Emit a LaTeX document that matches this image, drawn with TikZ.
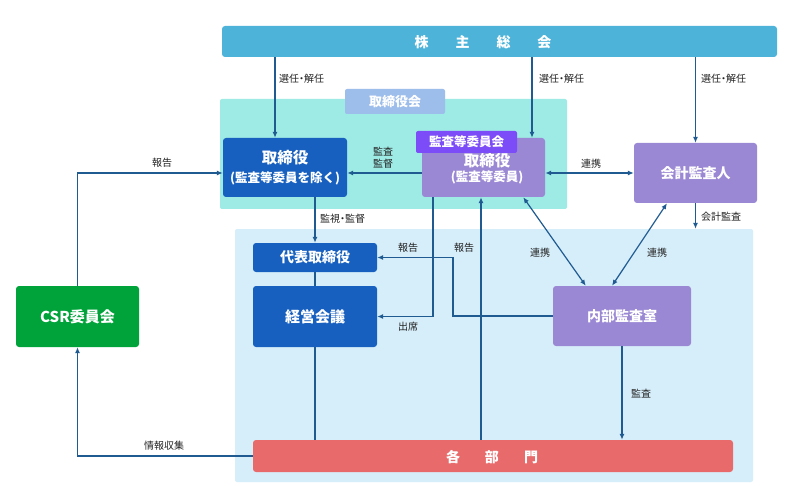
\documentclass[tikz,border=0pt]{standalone}
\usepackage{fontspec}
\setmainfont{Noto Sans CJK JP}
\usetikzlibrary{arrows.meta}
\definecolor{shc}{HTML}{4DB3D9}
\definecolor{cyanreg}{HTML}{9EEAE5}
\definecolor{tabblue}{HTML}{9DBDEB}
\definecolor{boxblue}{HTML}{1760BF}
\definecolor{purp}{HTML}{9B88D4}
\definecolor{violet}{HTML}{7B4CF7}
\definecolor{grn}{HTML}{00A23A}
\definecolor{redbar}{HTML}{E86A6A}
\definecolor{lightreg}{HTML}{D6EEFA}
\definecolor{lc}{HTML}{1F5A91}
\definecolor{lbltxt}{HTML}{222222}
\newcommand{\ndot}{\kern-2.5pt・\kern-2.5pt}
\tikzset{
  box/.style={rounded corners=3pt, text=white, inner sep=0pt, align=center, font=\bfseries\fontsize{14}{17}\selectfont},
  region/.style={rounded corners=2pt, inner sep=0pt},
  lbl/.style={font=\fontsize{10}{12}\selectfont, text=lbltxt, inner sep=0pt},
  conn/.style={draw=lc, line width=1.2pt},
  arr/.style={conn, -{Latex[length=6pt,width=5pt]}},
  darr/.style={conn, {Latex[length=6pt,width=5pt]}-{Latex[length=6pt,width=5pt]}},
}
\begin{document}
\begin{tikzpicture}[x=1pt,y=-1pt]
\useasboundingbox (0,0) rectangle (791,486);
\fill[white] (0,0) rectangle (791,486);
% regions
\node[region, fill=lightreg, minimum width=518pt, minimum height=253pt] (L) at (494,355.5) {};
\node[region, fill=cyanreg, minimum width=347pt, minimum height=110pt] (Q) at (393.5,154) {};
\node[box, fill=tabblue, minimum width=100pt, minimum height=25pt, rounded corners=2pt, font=\bfseries\fontsize{13}{15}\selectfont] (QT) at (395,101.5) {取締役会};
% main nodes
\node[box, fill=shc, minimum width=555pt, minimum height=31pt] (S) at (499.5,41.5) {};
\node[font=\bfseries\fontsize{14}{17}\selectfont, text=white, inner sep=0pt] (ST) at (483,42) {株\hspace{27pt}主\hspace{27pt}総\hspace{27pt}会};
\node[box, fill=boxblue, minimum width=124pt, minimum height=59pt] (A) at (285,167.5) {\fontsize{15.5}{19}\selectfont 取締役\\[1.5pt]\fontsize{12.5}{15}\selectfont (監査等委員を除く)};
\node[box, fill=purp, minimum width=123pt, minimum height=59pt] (B) at (483.5,167.5) {};
\node[text=white, inner sep=0pt, align=center, font=\bfseries] (BT) at (487,169) {\fontsize{15.5}{19}\selectfont 取締役\\[1.5pt]\fontsize{12.5}{15}\selectfont (監査等委員)};
\node[box, fill=violet, minimum width=101pt, minimum height=22pt, rounded corners=2pt, font=\bfseries\fontsize{12.5}{15}\selectfont] (BV) at (466.5,142) {監査等委員会};
\node[box, fill=purp, minimum width=123pt, minimum height=60pt] (K) at (695.5,173) {会計監査人};
\node[box, fill=boxblue, minimum width=124pt, minimum height=29pt] (R) at (315,257.5) {代表取締役};
\node[box, fill=boxblue, minimum width=124pt, minimum height=61pt, font=\bfseries\fontsize{15}{18}\selectfont] (M) at (315,316.5) {経営会議};
\node[box, fill=purp, minimum width=138pt, minimum height=60pt] (N) at (622,316) {内部監査室};
\node[box, fill=grn, minimum width=123pt, minimum height=61pt, font=\bfseries\fontsize{15}{18}\selectfont] (C) at (77.5,316.5) {CSR委員会};
\node[box, fill=redbar, minimum width=480pt, minimum height=32pt] (D) at (493,456) {};
\node[font=\bfseries\fontsize{14}{17}\selectfont, text=white, inner sep=0pt] (DT) at (492,457) {各\hspace{25pt}部\hspace{25pt}門};
% helper coordinates
\coordinate (bx) at (481,0);
\coordinate (nr) at (453,257.5);
% connectors
\draw[arr] ([xshift=-10pt]A.north |- S.south) -- ([xshift=-10pt]A.north);
\draw[arr] ([xshift=48.5pt]B.north |- S.south) -- ([xshift=48.5pt]B.north);
\draw[arr] (K.north |- S.south) -- (K.north);
\draw[arr] ([yshift=-5.5pt]B.west) -- ([yshift=-5.5pt]B.west -| A.east);
\draw[darr] (B.east |- K.west) -- (K.west);
\draw[arr] (A.south -| R.north) -- (R.north);
\draw[conn] (R.south) -- (M.north);
\draw[conn] (M.south) -- (M.south |- D.north);
\draw[arr] ([xshift=-50.5pt]B.south) |- (M.east);
\draw[arr] (N.west) -| (nr) -- (R.east);
\draw[arr] (D.north -| bx) -- (bx |- B.south);
\draw[darr] ([xshift=-22pt]B.south east) -- ([xshift=33pt]N.north west);
\draw[darr] ([xshift=-28.5pt]K.south) -- ([xshift=-10pt]N.north);
\draw[arr] (K.south) -- (K.south |- L.north);
\draw[arr] (N.south) -- (N.south |- D.north);
\draw[arr] (C.north) |- ([yshift=-5.5pt]A.west);
\draw[arr] (D.west) -| (C.south);
% labels
\node[lbl, anchor=west] (l1) at (279,79) {選任\ndot 解任};
\node[lbl, anchor=west] (l2) at (539,79) {選任\ndot 解任};
\node[lbl, anchor=west] (l3) at (701,79) {選任\ndot 解任};
\node[lbl, align=center] (l4) at (383,158) {監査\\監督};
\node[lbl] (l5) at (591,164) {連携};
\node[lbl] (l6) at (162,163) {報告};
\node[lbl, anchor=west] (l7) at (320,219) {監視\ndot 監督};
\node[lbl] (l8) at (408,248) {報告};
\node[lbl] (l9) at (464,248) {報告};
\node[lbl] (l10) at (408,327) {出席};
\node[lbl] (l11) at (540,253) {連携};
\node[lbl] (l12) at (657,253) {連携};
\node[lbl, anchor=west] (l13) at (701,217) {会計監査};
\node[lbl] (l14) at (641,394) {監査};
\node[lbl] (l15) at (164,446) {情報収集};
\end{tikzpicture}
\end{document}
